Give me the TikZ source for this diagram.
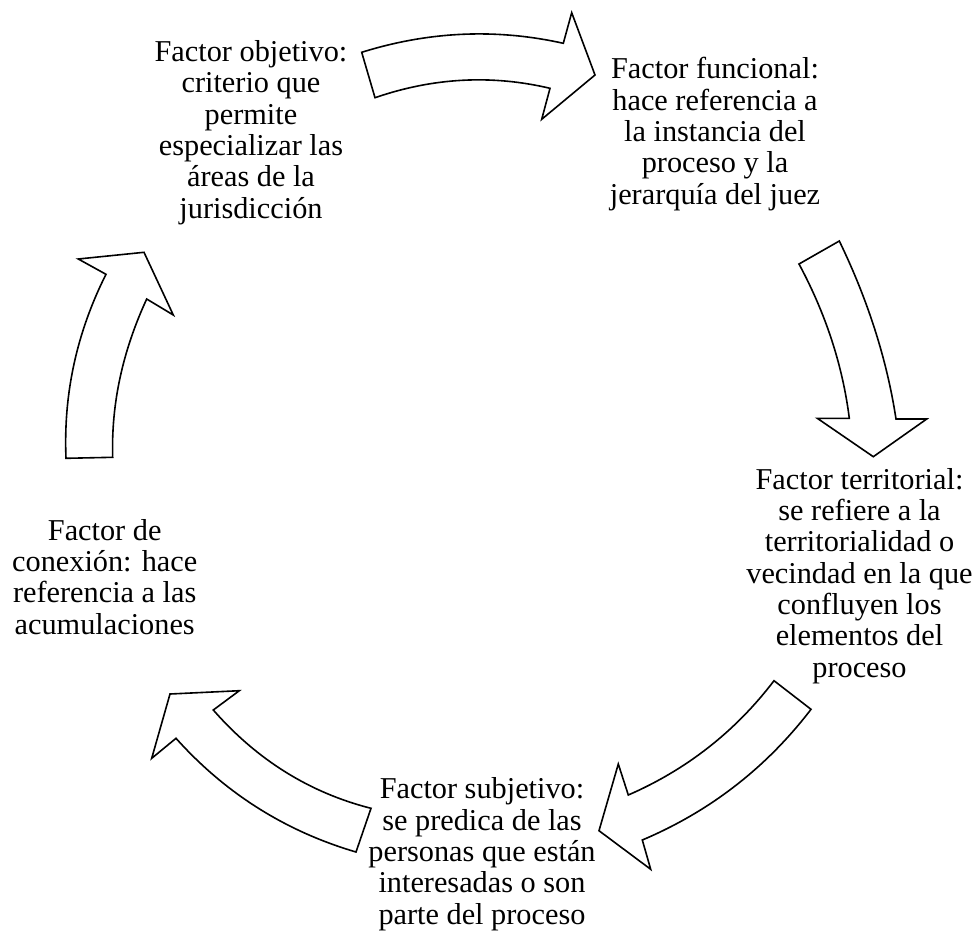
\documentclass[tikz,border=0pt]{standalone}
\usepackage{fontspec}
\setmainfont{Liberation Serif}
\begin{document}
\begin{tikzpicture}[x=1pt,y=-1pt,
  blockarrow/.style={draw=black, line width=1.6pt, fill=white, line join=miter},
  factor/.style={align=center, inner sep=0pt, anchor=base, font=\fontsize{30.3}{31.3}\selectfont}]
\useasboundingbox[fill=white] (0,0) rectangle (977,932);

% text nodes (anchor=base is the baseline of the last line)
\node[factor] (obj) at (251,218) {Factor objetivo:\\criterio que\\permite\\especializar las\\áreas de la\\jurisdicción};
\node[factor] (fun) at (715,204) {Factor funcional:\\hace referencia a\\la instancia del\\proceso y la\\jerarquía del juez};
\node[factor] (ter) at (859.5,677) {Factor territorial:\\se refiere a la\\territorialidad o\\vecindad en la que\\confluyen los\\elementos del\\proceso};
\node[factor] (sub) at (482,924) {Factor subjetivo:\\se predica de las\\personas que están\\interesadas o son\\parte del proceso};
\node[factor] (con) at (104.7,634) {Factor de\\conexión: hace\\referencia a las\\acumulaciones};

% arrow 1: objetivo -> funcional
\coordinate (a1t) at (361.7,52.3);
\coordinate (a1b) at (375,97.7);
\coordinate (a1tip) at (595,75);
\draw[blockarrow] (a1t) .. controls (428.9,31.3) and (496.1,28.3) .. (563.3,43.3)
  -- (571.7,12.7) -- (a1tip) -- (541.7,119.3) -- (550,88.3)
  .. controls (491.7,74.5) and (433.3,77.6) .. (a1b) -- cycle;

% arrow 2: funcional -> territorial
\coordinate (a2t) at (839.3,241);
\coordinate (a2l) at (799,264);
\coordinate (a2tip) at (873.3,456.7);
\draw[blockarrow] (a2t) -- (a2l) .. controls (825.8,313.9) and (842.6,365.3) .. (849.3,418.3)
  -- (817.3,418.3) -- (a2tip) -- (926.7,419) -- (896,419)
  .. controls (886.9,359.7) and (868,300.3) .. (a2t) -- cycle;

% arrow 3: territorial -> subjetivo
\coordinate (a3t) at (774,680.7);
\coordinate (a3r) at (811,709.3);
\coordinate (a3tip) at (599,830.7);
\draw[blockarrow] (a3t) -- (a3r) .. controls (766.3,767.7) and (710.1,811.3) .. (642.3,840)
  -- (650.7,869.3) -- (a3tip) -- (618.3,764) -- (628.3,795)
  .. controls (686.8,769.5) and (735.4,731.4) .. (a3t) -- cycle;

% arrow 4: subjetivo -> conexion
\coordinate (a4t) at (371,808.3);
\coordinate (a4b) at (356,852);
\coordinate (a4tip) at (170,694);
\draw[blockarrow] (a4t) -- (a4b) .. controls (285.3,831.2) and (225.3,793.3) .. (176,738.3)
  -- (151.7,758.3) -- (a4tip) -- (239.3,690.7) -- (213.3,710)
  .. controls (257,759.9) and (309.6,792.7) .. (a4t) -- cycle;

% arrow 5: conexion -> objetivo
\coordinate (a5l) at (66,458.3);
\coordinate (a5r) at (112.7,457.3);
\coordinate (a5tip) at (144,252.3);
\draw[blockarrow] (a5l) .. controls (63.3,393.9) and (76.7,332.6) .. (106,274.3)
  -- (78.3,259) -- (a5tip) -- (173.3,315) -- (146.7,299)
  .. controls (122.4,351.6) and (111.1,404.3) .. (a5r) -- cycle;
\end{tikzpicture}
\end{document}
